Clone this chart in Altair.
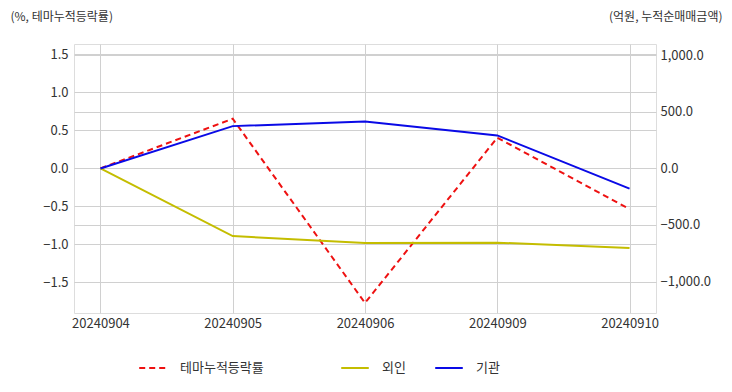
import altair as alt
import pandas as pd

dates = ["20240904", "20240905", "20240906", "20240909", "20240910"]
theme = [0.0, 0.654, -1.772, 0.404, -0.536]
foreign = [0.0, -598.0, -660.0, -656.0, -704.0]
inst = [0.0, 374.0, 415.0, 292.0, -179.0]

theme_name = ["테마누적등락률"]
inv_names = ["외인", "기관"]
theme_color = ["#ee1111"]
inv_colors = ["#c4bd00", "#0a0ae6"]

df_theme = pd.DataFrame({"date": dates, "value": theme, "series": theme_name[0]})
df_inv = pd.concat([
    pd.DataFrame({"date": dates, "value": foreign, "series": inv_names[0]}),
    pd.DataFrame({"date": dates, "value": inst, "series": inv_names[1]}),
])

FONT = "Noto Sans CJK KR"
TXT = "#333333"


def make_legend(lx):
    return alt.Legend(
        title=None, orient="none", direction="horizontal",
        legendX=lx, legendY=309,
        symbolType="stroke", symbolSize=760, symbolStrokeWidth=2,
        labelFont=FONT, labelFontSize=13, labelColor=TXT, labelOffset=12,
        columnPadding=25,
    )


leg1 = make_legend(64)
leg2 = make_legend(266)

x = alt.X("date:O", sort=dates, title=None,
          scale=alt.Scale(type="point", padding=0.2),
          axis=alt.Axis(labelAngle=0, grid=True, gridColor="#d0d0d0", domain=False, ticks=False,
                        labelFont=FONT, labelFontSize=13, labelColor=TXT, labelPadding=4))

left = alt.Chart(df_theme).mark_line(strokeWidth=2).encode(
    x=x,
    y=alt.Y("value:Q", scale=alt.Scale(domain=[-1.904, 1.638], nice=False, zero=False),
            axis=alt.Axis(title="(%, 테마누적등락률)", orient="left", values=[-1.5, -1.0, -0.5, 0.0, 0.5, 1.0, 1.5],
                          format=".1f", grid=True, gridColor="#d0d0d0", domain=False, ticks=False,
                          labelFont=FONT, labelFontSize=13, labelColor=TXT, labelPadding=6,
                          titleAngle=0, titleAlign="left", titleBaseline="middle",
                          titleX=-64, titleY=-28, titleFont=FONT, titleFontSize=12,
                          titleFontWeight="normal", titleColor=TXT)),
    color=alt.Color("series:N", scale=alt.Scale(domain=theme_name, range=theme_color), legend=leg1),
    strokeDash=alt.StrokeDash("series:N", scale=alt.Scale(domain=theme_name, range=[[6, 4]]), legend=leg1),
)

right = alt.Chart(df_inv).mark_line(strokeWidth=2).encode(
    x=x,
    y=alt.Y("value:Q", scale=alt.Scale(domain=[-1278, 1100], nice=False, zero=False),
            axis=alt.Axis(title="(억원, 누적순매매금액)", orient="right", values=[-1000, -500, 0, 500, 1000],
                          format=",.1f", grid=True, gridColor="#d0d0d0", domain=False, ticks=False,
                          labelFont=FONT, labelFontSize=13, labelColor=TXT, labelPadding=4,
                          titleAngle=0, titleAlign="right", titleBaseline="middle",
                          titleX=66, titleY=-28, titleFont=FONT, titleFontSize=12,
                          titleFontWeight="normal", titleColor=TXT)),
    color=alt.Color("series:N", scale=alt.Scale(domain=inv_names, range=inv_colors), legend=leg2),
)

chart = alt.layer(left, right).resolve_scale(
    y="independent", color="independent", strokeDash="independent"
).properties(
    width=582, height=269,
    autosize=alt.AutoSizeParams(type="none"),
    padding={"left": 66, "top": 36, "right": 68, "bottom": 71},
).configure_view(stroke="#c8c8c8", strokeWidth=2).configure(background="white")

chart.save("out.html", embed_options={"renderer": "svg", "actions": False})
